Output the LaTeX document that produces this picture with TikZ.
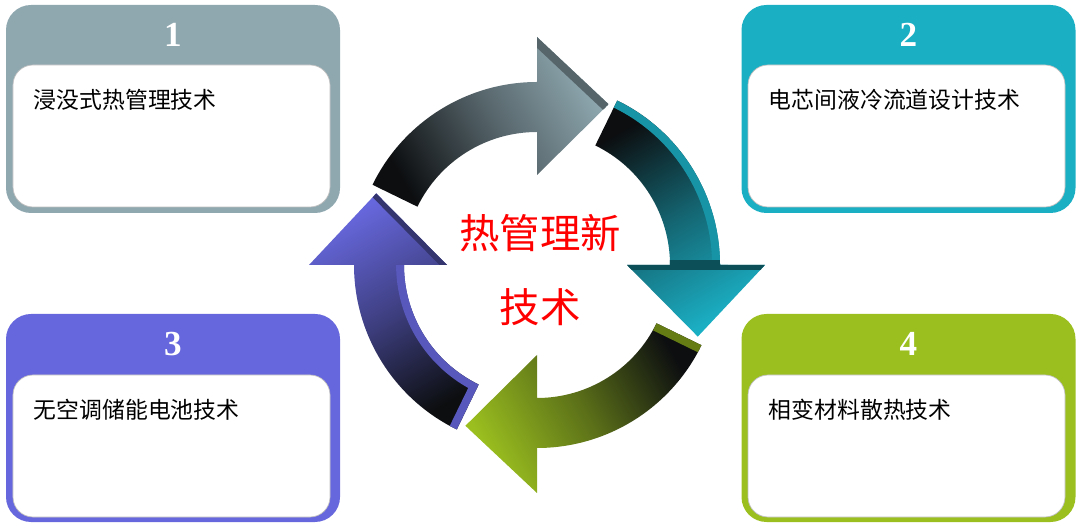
\documentclass[tikz,border=0pt]{standalone}
\usepackage{fontspec}
\setmainfont{Liberation Serif}
\newfontfamily\cjk{Noto Sans CJK SC}
\usepackage{tikz}
\usetikzlibrary{positioning, calc}

\definecolor{grisbleu}{HTML}{8FA8B0}
\definecolor{sarcelle}{HTML}{1BAFC4}
\definecolor{bleuviolet}{HTML}{6767DD}
\definecolor{vertpomme}{HTML}{9BBF1F}
\definecolor{ombre}{HTML}{0C0E10}

% contour d'une fleche courbe : #1 angle de la base de la pointe
\newcommand{\contourfleche}[1]{%
  (#1+64:3.66) arc[start angle=#1+64, end angle=#1, radius=3.66]
  -- (#1:4.56) -- (#1-24:3.52) -- (#1:1.8) -- (#1:2.66)
  arc[start angle=#1, end angle=#1+64, radius=2.66] -- cycle}
% fleche : #2 couleur claire, #3 angle du degrade
\newcommand{\flechecourbe}[3]{%
  \shade[top color=#2, bottom color=ombre, middle color=#2!55!ombre, shading angle=#3] \contourfleche{#1};}

\begin{document}
\begin{tikzpicture}[
  cadre/.style={rounded corners=0.5cm, minimum width=6.68cm, minimum height=4.16cm, inner sep=0},
  interieur/.style={draw=black!25, fill=white, rounded corners=0.4cm, minimum width=6.34cm, minimum height=2.84cm, inner sep=0},
  chiffre/.style={text=white, font=\fontsize{20}{20}\selectfont\bfseries},
  intitule/.style={anchor=west, font=\cjk\fontsize{13}{15}\selectfont},
  centre/.style={align=center, text=red, font=\cjk\fontsize{23}{42}\selectfont},
  relief/.style={line width=9pt}
]
  \useasboundingbox (0,0) rectangle (21.6,10.54);
  % Cadres
  \node[cadre, fill=grisbleu] (C1) at (3.46,8.36) {};
  \node[interieur] (I1) at (3.43,7.82) {};
  \node[chiffre, yshift=-0.6cm] (N1) at (C1.north) {1};
  \node[intitule] (T1) at ($(I1.north west)+(0.3,-0.7)$) {浸没式热管理技术};
  \node[cadre, fill=sarcelle] (C2) at (18.17,8.36) {};
  \node[interieur] (I2) at (18.13,7.82) {};
  \node[chiffre, yshift=-0.6cm] (N2) at (C2.north) {2};
  \node[intitule] (T2) at ($(I2.north west)+(0.3,-0.7)$) {电芯间液冷流道设计技术};
  \node[cadre, fill=bleuviolet] (C3) at (3.46,2.18) {};
  \node[interieur] (I3) at (3.43,1.62) {};
  \node[chiffre, yshift=-0.6cm] (N3) at (C3.north) {3};
  \node[intitule] (T3) at ($(I3.north west)+(0.3,-0.7)$) {无空调储能电池技术};
  \node[cadre, fill=vertpomme] (C4) at (18.17,2.18) {};
  \node[interieur] (I4) at (18.13,1.62) {};
  \node[chiffre, yshift=-0.6cm] (N4) at (C4.north) {4};
  \node[intitule] (T4) at ($(I4.north west)+(0.3,-0.7)$) {相变材料散热技术};
  % Cycle
  \coordinate (anneau) at (10.74,5.24);
  \begin{scope}[shift={(anneau)}]
    \flechecourbe{90}{grisbleu}{-60}
    \flechecourbe{0}{sarcelle}{-150}
    \flechecourbe{-90}{vertpomme}{120}
    \flechecourbe{180}{bleuviolet}{30}
    % faces en relief
    \begin{scope}
      \clip \contourfleche{90};
      \draw[relief, grisbleu!60!black] (90:4.56) -- (66:3.52);
    \end{scope}
    \begin{scope}
      \clip \contourfleche{0};
      \draw[relief, sarcelle!85!black] (64:3.66) arc[start angle=64, end angle=0, radius=3.66];
      \draw[relief, line width=6pt, sarcelle!45!black] (0:1.8) -- (0:4.56);
    \end{scope}
    \begin{scope}
      \clip \contourfleche{-90};
      \draw[relief, vertpomme!65!black] (-26:3.66) -- (-26:2.66);
    \end{scope}
    \begin{scope}
      \clip \contourfleche{180};
      \draw[relief, bleuviolet!85!black] (180:2.66) arc[start angle=180, end angle=244, radius=2.66] -- (244:3.66);
      \draw[relief, line width=6pt, bleuviolet!50!black] (180:1.8) -- (156:3.52);
    \end{scope}
  \end{scope}
  \node[centre] (titre) at (10.8,5.14) {热管理新\\技术};
\end{tikzpicture}
\end{document}
